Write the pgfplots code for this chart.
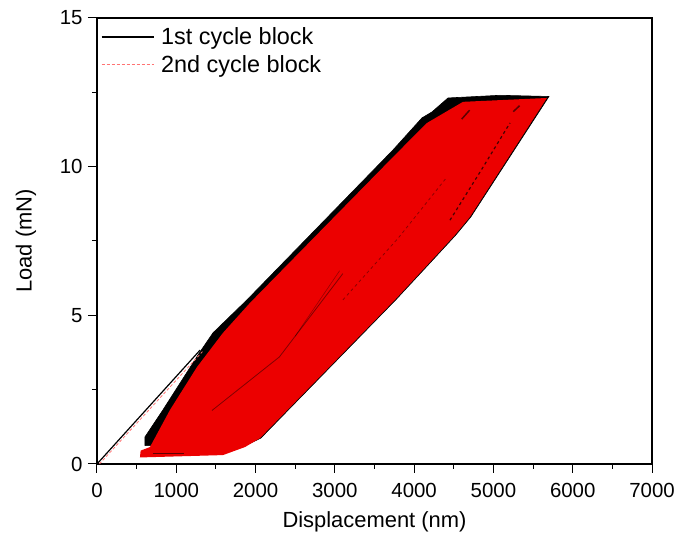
\documentclass[border=0pt]{standalone}
\usepackage{pgfplots}
\pgfplotsset{compat=1.18}
\usepackage{fontspec}
\setmainfont{Liberation Sans}
\definecolor{cred}{RGB}{236,0,0}

\begin{document}
\begin{tikzpicture}[x=1bp,y=1bp]
\useasboundingbox (-97,-75) rectangle (592,464);
\begin{axis}[
  at={(0,0)}, anchor=south west,
  scale only axis, width=555bp, height=446bp,
  xmin=0, xmax=7000, ymin=0, ymax=15,
  xtick={0,1000,...,7000}, ytick={0,5,10,15},
  minor x tick num=1, minor y tick num=1,
  tick align=outside, xtick pos=bottom, ytick pos=left,
  major tick length=9bp, minor tick length=5bp,
  tick style={black, line width=1bp},
  axis line style={line width=1.3bp},
  scaled x ticks=false,
  /pgf/number format/assume math mode=true,
  /pgf/number format/1000 sep={},
  ticklabel style={font=\fontsize{20.5}{22}\selectfont},
  xticklabel style={yshift=-7bp},
  yticklabel style={xshift=-2bp},
  xlabel={Displacement (nm)}, ylabel={Load (mN)},
  label style={font=\fontsize{22}{24}\selectfont},
  xlabel style={at={(axis description cs:0.5,0)}, anchor=center, yshift=-58bp},
  ylabel style={at={(axis description cs:0,0.5)}, anchor=center, yshift=71bp},
  legend style={draw=none, fill=none, at={(0.005,0.985)}, anchor=north west,
    font=\fontsize{23.5}{26}\selectfont, row sep=5bp, inner sep=1bp,
    nodes={inner xsep=7bp}},
  legend cell align=left,
  legend image code/.code={\draw[#1] (0bp,0bp) -- (52bp,0bp);},
]
% envelope of the 1st cycle block
\addplot[fill=black, draw=black, line width=0.6bp, forget plot] coordinates {
(605,0.62) (605,0.91) (832,1.82) (1299,3.77) (1463,4.41) (1892,5.52)
(3733,10.56) (4099,11.64) (4225,11.84) (4427,12.31) (5083,12.40) (5700,12.36)
(4715,8.31) (4525,7.70) (4210,6.79) (3768,5.52) (2066,0.87) (1870,0.62) (605,0.62)
};
% envelope of the 2nd cycle block
\addplot[fill=cred, draw=none, forget plot] coordinates {
(542,0.22) (550,0.45) (668,0.57) (921,1.82) (1261,3.26) (1589,4.41) (1930,5.42)
(3758,10.39) (4162,11.47) (4616,12.18) (5675,12.31)
(4704,8.31) (4515,7.70) (4200,6.79) (3758,5.52) (2056,0.87) (1867,0.57)
(1589,0.30) (542,0.22)
};
% inner streaks
\addplot[black, opacity=0.45, line width=0.8bp, forget plot] coordinates {(1450,1.8) (2300,3.6) (3100,6.4)};
\addplot[black, opacity=0.4, line width=0.8bp, dashed, forget plot] coordinates {(3102,5.52) (3800,7.6) (4414,9.65)};
\addplot[black, opacity=0.7, line width=1.2bp, dashed, forget plot] coordinates {(4452,8.2) (4850,9.9) (5209,11.47)};
\addplot[black, opacity=0.35, line width=0.6bp, forget plot] coordinates {(2500,4.3) (3060,6.5)};
\addplot[black, opacity=0.6, line width=1.5bp, forget plot] coordinates {(4600,11.6) (4700,11.9)};
\addplot[black, opacity=0.6, line width=1.5bp, forget plot] coordinates {(5250,11.85) (5330,12.05)};
\addplot[black, opacity=0.6, line width=1bp, forget plot] coordinates {(700,0.36) (1100,0.36)};
% first loading lines
\addplot[black, line width=1.2bp] coordinates {(0,0) (1300,3.83)};
\addlegendentry{1st cycle block}
\addplot[red!55, line width=0.8bp, dash pattern=on 3bp off 2bp] coordinates {(30,0) (1330,3.78)};
\addlegendentry{2nd cycle block}
\end{axis}
\end{tikzpicture}
\end{document}
